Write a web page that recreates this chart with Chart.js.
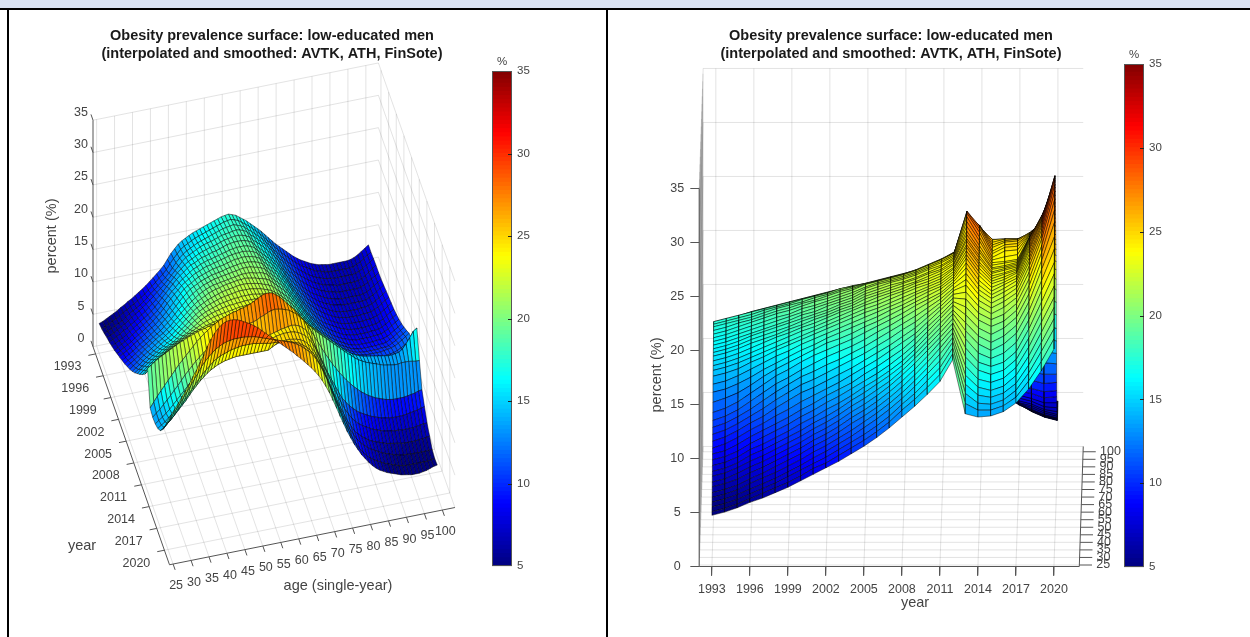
<!DOCTYPE html>
<html>
<head>
<meta charset="utf-8">
<title>Obesity prevalence surface</title>
<script src="https://cdn.jsdelivr.net/npm/chart.js@4"></script>
<style>
  html, body { margin: 0; padding: 0; background: #fff; overflow: hidden; }
  #page { position: relative; width: 1250px; height: 637px; }
  #band { position: absolute; left: 0; top: 0; width: 1250px; height: 8px; background: #d9e2f3; border-bottom: 2px solid #000; }
  .rule { position: absolute; top: 10px; bottom: 0; width: 2px; background: #000; }
  canvas { position: absolute; }
</style>
</head>
<body>
<div id="page">
  <div id="band"></div>
  <div class="rule" style="left:7px"></div>
  <div class="rule" style="left:606px"></div>
  <canvas id="surfaceLeft" style="left:9px;top:27px" width="526" height="610"></canvas>
  <canvas id="surfaceRight" style="left:608px;top:27px" width="566" height="610"></canvas>
  <canvas id="barLeft" style="left:492px;top:52px" width="50" height="526"></canvas>
  <canvas id="barRight" style="left:1124px;top:45px" width="50" height="534"></canvas>
</div>
<script>
var titleLines = ["Obesity prevalence surface: low-educated men", "(interpolated and smoothed: AVTK, ATH, FinSote)"];
var yearTicks = [1993, 1996, 1999, 2002, 2005, 2008, 2011, 2014, 2017, 2020];
var ageTicks = [25, 30, 35, 40, 45, 50, 55, 60, 65, 70, 75, 80, 85, 90, 95, 100];
var percentTicks = [0, 5, 10, 15, 20, 25, 30, 35];
var colorbarTicks = [5, 10, 15, 20, 25, 30, 35];

var ages = [25, 26, 27, 28, 29, 30, 31, 32, 33, 34, 35, 36, 37, 38, 39, 40, 41, 42, 43, 44, 45, 46, 47, 48, 49, 50, 51, 52, 53, 54, 55, 56, 57, 58, 59, 60, 61, 62, 63, 64, 65, 66, 67, 68, 69, 70, 71, 72, 73, 74, 75, 76, 77, 78, 79, 80, 81, 82, 83, 84, 85, 86, 87, 88, 89, 90, 91, 92, 93, 94, 95, 96, 97, 98, 99, 100];
var years = [1993, 1994, 1995, 1996, 1997, 1998, 1999, 2000, 2001, 2002, 2003, 2004, 2005, 2006, 2007, 2008, 2009, 2010, 2011, 2012, 2013, 2014, 2015, 2016, 2017, 2018, 2019, 2020];
// one row per year, one value per age
var percent = [
  [4.6,4.8,5.1,5.4,5.7,6.0,6.4,6.7,7.1,7.4, 7.8,8.2,8.6,9.0,9.5,10.0,10.5,11.0,11.6,12.4, 13.2,13.8,14.4,14.8,15.1,15.4,15.7,15.9,16.1,16.3, 16.5,16.7,16.9,17.1,17.3,17.4,17.5,17.3,17.1,16.7, 16.3,15.9,15.4,14.9,14.4,13.9,13.3,12.7,12.1,11.5, 11.0,10.5,10.0,9.5,9.0,8.6,8.2,7.9,7.6,7.3, 7.1,6.9,6.8,6.7,6.6,6.6,6.6,6.6,6.6,6.6, 6.7,6.9,7.2,7.6,8.0,8.4],
  [4.9,5.1,5.4,5.7,6.0,6.3,6.7,7.0,7.4,7.7, 8.1,8.5,8.9,9.4,9.9,10.4,10.9,11.4,12.0,12.8, 13.5,14.1,14.7,15.1,15.4,15.7,16.0,16.2,16.4,16.6, 16.8,17.0,17.2,17.4,17.6,17.7,17.8,17.6,17.4,17.0, 16.6,16.2,15.7,15.2,14.7,14.1,13.5,12.9,12.3,11.7, 11.1,10.6,10.1,9.6,9.1,8.7,8.3,8.0,7.7,7.4, 7.1,7.0,6.8,6.7,6.6,6.6,6.6,6.6,6.6,6.6, 6.7,6.9,7.2,7.6,8.0,8.4],
  [5.3,5.5,5.8,6.1,6.4,6.7,7.1,7.5,7.9,8.2, 8.6,9.0,9.5,10.0,10.5,11.0,11.5,12.0,12.6,13.3, 14.0,14.6,15.1,15.5,15.8,16.1,16.4,16.6,16.8,17.0, 17.2,17.4,17.6,17.8,17.9,18.0,18.1,17.9,17.7,17.4, 16.9,16.5,16.0,15.5,15.0,14.4,13.8,13.1,12.5,11.9, 11.3,10.7,10.2,9.7,9.2,8.8,8.4,8.0,7.7,7.4, 7.2,7.0,6.9,6.8,6.7,6.7,6.7,6.7,6.7,6.7, 6.8,7.0,7.3,7.7,8.1,8.5],
  [5.8,6.0,6.3,6.6,7.0,7.3,7.7,8.1,8.5,8.9, 9.3,9.7,10.2,10.7,11.2,11.7,12.2,12.8,13.4,14.0, 14.6,15.2,15.7,16.0,16.3,16.6,16.9,17.1,17.3,17.4, 17.6,17.8,18.0,18.1,18.2,18.3,18.4,18.3,18.1,17.8, 17.2,16.8,16.3,15.8,15.3,14.7,14.1,13.4,12.7,12.1, 11.5,10.9,10.3,9.8,9.3,8.9,8.5,8.1,7.8,7.5, 7.3,7.1,7.0,6.9,6.7,6.7,6.7,6.7,6.7,6.7, 6.8,7.0,7.3,7.7,8.2,8.6],
  [6.2,6.5,6.8,7.1,7.5,7.8,8.2,8.6,9.0,9.4, 9.8,10.3,10.8,11.3,11.8,12.4,13.0,13.6,14.2,14.8, 15.3,15.8,16.2,16.5,16.8,17.1,17.3,17.5,17.7,17.8, 18.0,18.2,18.4,18.5,18.6,18.7,18.7,18.6,18.4,18.1, 17.5,17.1,16.6,16.1,15.5,14.9,14.3,13.6,12.9,12.2, 11.6,11.1,10.5,9.9,9.4,9.0,8.6,8.2,7.9,7.6, 7.4,7.2,7.1,6.9,6.8,6.8,6.8,6.8,6.8,6.8, 6.9,7.1,7.4,7.8,8.2,8.6],
  [6.7,7.0,7.3,7.6,8.0,8.4,8.8,9.2,9.6,10.0, 10.4,10.9,11.4,12.0,12.6,13.2,13.8,14.4,15.0,15.5, 15.9,16.4,16.8,17.0,17.3,17.6,17.7,17.9,18.1,18.2, 18.4,18.6,18.8,18.9,19.0,19.0,19.0,18.9,18.7,18.4, 17.8,17.3,16.8,16.3,15.7,15.1,14.5,13.8,13.1,12.4, 11.8,11.2,10.6,10.0,9.5,9.0,8.6,8.3,8.0,7.7, 7.4,7.3,7.1,7.0,6.9,6.9,6.9,6.9,6.9,6.9, 7.0,7.2,7.5,7.9,8.3,8.7],
  [7.2,7.5,7.9,8.2,8.6,9.0,9.4,9.8,10.2,10.6, 11.0,11.5,12.0,12.6,13.3,13.9,14.5,15.0,15.6,16.1, 16.5,16.9,17.3,17.5,17.8,18.0,18.2,18.3,18.5,18.6, 18.8,18.9,19.1,19.2,19.3,19.3,19.3,19.2,19.0,18.7, 18.1,17.6,17.1,16.6,16.0,15.4,14.8,14.1,13.3,12.6, 12.0,11.4,10.8,10.2,9.7,9.2,8.8,8.4,8.1,7.8, 7.6,7.4,7.3,7.2,7.1,7.1,7.1,7.1,7.1,7.1, 7.2,7.4,7.7,8.1,8.5,8.9],
  [7.8,8.1,8.5,8.8,9.2,9.6,10.0,10.4,10.8,11.2, 11.7,12.2,12.7,13.3,14.0,14.6,15.2,15.7,16.3,16.7, 17.1,17.5,17.8,18.0,18.3,18.5,18.6,18.8,18.9,19.1, 19.2,19.4,19.5,19.6,19.6,19.7,19.6,19.5,19.3,19.0, 18.4,17.9,17.4,16.9,16.3,15.7,15.0,14.3,13.5,12.8, 12.2,11.6,11.0,10.4,9.9,9.4,9.0,8.6,8.3,8.0, 7.7,7.5,7.4,7.3,7.2,7.2,7.2,7.2,7.3,7.3, 7.4,7.6,7.9,8.3,8.7,9.1],
  [8.4,8.8,9.1,9.5,9.9,10.3,10.7,11.1,11.5,11.9, 12.3,12.8,13.3,13.9,14.5,15.1,15.7,16.3,16.9,17.3, 17.6,18.0,18.3,18.5,18.7,18.9,19.1,19.2,19.3,19.4, 19.6,19.7,19.9,19.9,20.0,20.0,19.9,19.8,19.6,19.3, 18.7,18.2,17.7,17.2,16.6,16.0,15.3,14.6,13.8,13.1, 12.4,11.8,11.2,10.6,10.1,9.6,9.2,8.8,8.5,8.2, 7.9,7.7,7.6,7.5,7.4,7.4,7.4,7.4,7.5,7.5, 7.6,7.8,8.1,8.5,8.9,9.3],
  [9.0,9.3,9.7,10.1,10.5,10.9,11.3,11.7,12.1,12.5, 13.0,13.5,14.0,14.5,15.1,15.7,16.3,16.9,17.4,17.9, 18.2,18.5,18.8,19.0,19.2,19.4,19.5,19.6,19.7,19.9, 20.0,20.1,20.2,20.3,20.3,20.3,20.2,20.1,19.9,19.6, 19.0,18.5,18.0,17.5,16.9,16.3,15.6,14.9,14.1,13.4, 12.7,12.0,11.4,10.8,10.3,9.8,9.4,9.0,8.7,8.4, 8.1,7.9,7.8,7.7,7.6,7.6,7.6,7.6,7.7,7.7, 7.8,8.0,8.3,8.7,9.1,9.5],
  [9.6,10.0,10.4,10.8,11.2,11.6,12.0,12.4,12.8,13.2, 13.6,14.1,14.6,15.1,15.7,16.3,16.8,17.4,17.9,18.3, 18.7,19.0,19.3,19.5,19.7,19.9,20.0,20.1,20.2,20.3, 20.4,20.5,20.6,20.7,20.7,20.7,20.5,20.4,20.2,19.9, 19.3,18.8,18.3,17.8,17.2,16.5,15.8,15.1,14.4,13.7, 13.0,12.3,11.7,11.1,10.5,10.0,9.6,9.3,9.0,8.7, 8.4,8.2,8.0,7.9,7.8,7.8,7.8,7.8,7.9,7.9, 8.0,8.2,8.5,8.9,9.3,9.7],
  [10.3,10.7,11.1,11.5,11.9,12.4,12.8,13.2,13.6,14.0, 14.3,14.8,15.2,15.8,16.3,16.9,17.4,17.9,18.4,18.8, 19.2,19.5,19.8,20.0,20.2,20.3,20.4,20.5,20.6,20.7, 20.8,20.9,21.0,21.0,21.0,20.9,20.7,20.7,20.5,20.2, 19.6,19.1,18.6,18.1,17.5,16.8,16.1,15.4,14.7,13.9, 13.2,12.5,11.9,11.3,10.8,10.3,9.9,9.5,9.2,8.9, 8.6,8.4,8.3,8.2,8.1,8.1,8.1,8.1,8.2,8.2, 8.3,8.5,8.8,9.2,9.6,10.0],
  [11.0,11.4,11.8,12.3,12.7,13.1,13.5,13.9,14.3,14.7, 15.1,15.5,16.0,16.5,17.0,17.5,18.0,18.5,19.0,19.4, 19.7,20.0,20.3,20.5,20.7,20.8,21.0,21.1,21.2,21.3, 21.4,21.4,21.5,21.4,21.3,21.2,21.0,20.9,20.7,20.4, 19.9,19.4,18.9,18.4,17.8,17.1,16.4,15.7,15.0,14.3, 13.6,12.9,12.3,11.7,11.2,10.7,10.2,9.8,9.5,9.2, 9.0,8.8,8.6,8.5,8.5,8.5,8.5,8.5,8.6,8.6, 8.7,8.9,9.2,9.6,10.0,10.4],
  [11.8,12.2,12.6,13.1,13.5,13.9,14.3,14.7,15.1,15.5, 15.8,16.2,16.7,17.2,17.7,18.2,18.7,19.2,19.6,19.9, 20.2,20.5,20.7,20.9,21.1,21.3,21.4,21.5,21.6,21.7, 21.8,21.8,21.8,21.7,21.6,21.5,21.3,21.1,20.9,20.6, 20.1,19.6,19.1,18.6,18.0,17.4,16.7,16.0,15.3,14.6, 13.9,13.2,12.6,12.0,11.5,11.0,10.6,10.2,9.9,9.6, 9.3,9.1,9.0,8.9,8.9,8.9,8.9,8.9,9.0,9.0, 9.1,9.3,9.6,10.0,10.4,10.8],
  [12.7,13.1,13.5,14.0,14.4,14.8,15.2,15.6,15.9,16.3, 16.6,17.0,17.5,18.0,18.4,18.9,19.4,19.8,20.2,20.5, 20.8,21.0,21.2,21.4,21.6,21.7,21.8,21.9,22.0,22.1, 22.1,22.1,22.1,22.0,21.9,21.8,21.6,21.4,21.2,20.8, 20.4,19.9,19.4,18.9,18.3,17.7,17.0,16.3,15.6,15.0, 14.3,13.6,13.0,12.5,12.0,11.5,11.1,10.7,10.4,10.1, 9.8,9.6,9.5,9.4,9.4,9.4,9.4,9.4,9.5,9.5, 9.6,9.9,10.2,10.6,11.0,11.4],
  [13.7,14.2,14.6,15.0,15.4,15.8,16.2,16.6,16.9,17.2, 17.5,17.9,18.3,18.8,19.2,19.7,20.1,20.5,20.8,21.1, 21.3,21.5,21.7,21.9,22.0,22.1,22.2,22.3,22.3,22.4, 22.4,22.4,22.4,22.3,22.2,22.1,21.9,21.7,21.5,21.1, 20.7,20.2,19.7,19.2,18.6,18.0,17.4,16.7,16.0,15.3, 14.7,14.0,13.4,12.9,12.5,12.0,11.6,11.3,11.0,10.7, 10.4,10.2,10.1,10.0,10.0,10.0,10.0,10.0,10.1,10.1, 10.2,10.5,10.8,11.2,11.6,12.0],
  [14.7,15.2,15.6,16.1,16.5,16.9,17.3,17.7,18.0,18.3, 18.6,18.9,19.3,19.6,20.0,20.4,20.8,21.2,21.5,21.7, 21.9,22.1,22.2,22.4,22.5,22.6,22.6,22.7,22.7,22.8, 22.8,22.8,22.8,22.7,22.6,22.4,22.2,22.0,21.8,21.4, 21.0,20.5,20.0,19.5,19.0,18.4,17.8,17.1,16.4,15.8, 15.1,14.5,13.9,13.4,13.0,12.6,12.2,11.9,11.6,11.3, 11.1,10.9,10.8,10.7,10.7,10.7,10.7,10.7,10.8,10.9, 11.0,11.2,11.5,11.9,12.3,12.7],
  [15.8,16.3,16.8,17.3,17.7,18.1,18.5,18.9,19.2,19.5, 19.8,20.1,20.4,20.7,21.0,21.3,21.6,21.9,22.1,22.3, 22.5,22.6,22.7,22.8,22.9,23.0,23.1,23.2,23.2,23.3, 23.3,23.3,23.3,23.2,23.1,22.9,22.7,22.5,22.2,21.8, 21.4,20.9,20.4,19.9,19.3,18.7,18.1,17.5,16.8,16.2, 15.5,14.9,14.3,13.8,13.3,12.9,12.5,12.2,11.9,11.7, 11.5,11.3,11.2,11.1,11.1,11.1,11.1,11.1,11.2,11.3, 11.4,11.6,11.9,12.2,12.6,13.0],
  [17.0,17.5,18.0,18.5,19.0,19.4,19.8,20.1,20.4,20.7, 21.0,21.3,21.5,21.8,22.0,22.2,22.4,22.6,22.7,22.9, 23.0,23.1,23.2,23.3,23.4,23.5,23.6,23.6,23.7,23.7, 23.8,23.8,23.8,23.7,23.6,23.4,23.2,22.9,22.6,22.2, 21.8,21.3,20.8,20.3,19.7,19.1,18.5,17.9,17.2,16.5, 15.8,15.2,14.6,14.1,13.6,13.2,12.8,12.5,12.2,12.0, 11.8,11.6,11.5,11.4,11.4,11.4,11.4,11.4,11.5,11.6, 11.7,11.9,12.2,12.5,12.9,13.3],
  [19.0,19.4,19.8,20.2,20.5,20.8,21.1,21.4,21.7,22.0, 22.2,22.5,22.7,22.9,23.1,23.3,23.4,23.6,23.7,23.8, 23.9,24.0,24.1,24.2,24.2,24.3,24.3,24.4,24.4,24.4, 24.4,24.4,24.4,24.3,24.2,24.1,23.9,23.7,23.4,23.1, 22.8,22.4,22.0,21.6,21.2,20.7,20.2,19.7,19.2,18.7, 18.2,17.7,17.2,16.7,16.2,15.7,15.3,14.9,14.6,14.4, 14.2,14.1,14.0,13.9,13.8,13.7,13.6,13.5,13.5,13.6, 13.7,14.1,14.8,15.6,16.5,16.9],
  [14.0,14.8,15.6,16.3,17.0,17.7,18.4,19.1,19.8,20.4, 21.0,21.6,22.2,22.8,23.3,23.8,24.2,24.6,25.0,25.3, 25.6,25.8,26.0,26.2,26.3,26.5,26.6,26.8,27.0,27.3, 27.6,27.9,28.1,28.1,28.0,27.6,27.2,26.6,26.0,25.4, 24.8,24.1,23.4,22.7,22.0,21.4,20.8,20.3,19.8,19.3, 18.8,18.3,17.8,17.3,16.8,16.3,15.9,15.4,15.0,14.7, 14.4,14.2,14.0,13.8,13.6,13.4,13.3,13.2,13.1,13.1, 13.2,13.2,13.2,13.1,13.0,13.0],
  [13.7,14.2,14.7,15.3,15.9,16.5,17.2,17.8,18.5,19.2, 19.8,20.4,21.0,21.5,22.0,22.4,22.8,23.1,23.4,23.7, 24.0,24.2,24.4,24.6,24.7,24.9,25.0,25.2,25.3,25.5, 25.8,26.0,26.3,26.5,26.6,26.5,26.4,26.2,26.0,25.6, 25.2,24.6,24.0,23.1,22.2,21.2,20.2,19.2,18.2,17.3, 16.4,15.6,14.8,14.1,13.4,12.8,12.2,11.7,11.2,10.8, 10.4,10.1,9.8,9.6,9.4,9.2,9.1,9.0,9.0,9.0, 9.0,9.1,9.2,9.3,9.5,9.6],
  [13.8,14.2,14.6,15.1,15.6,16.2,16.8,17.4,18.0,18.6, 19.2,19.8,20.4,20.9,21.3,21.7,22.0,22.3,22.5,22.7, 22.9,23.1,23.2,23.3,23.4,23.5,23.5,23.6,23.6,23.7, 23.8,23.9,24.0,24.2,24.3,24.5,24.6,24.7,24.8,24.7, 24.5,24.1,23.6,22.7,21.6,20.3,19.0,17.7,16.4,15.3, 14.2,13.1,12.0,11.3,10.6,10.1,9.6,9.2,8.9,8.6, 8.3,8.1,7.9,7.7,7.6,7.5,7.4,7.4,7.4,7.4, 7.5,7.6,7.7,7.8,8.0,8.1],
  [14.2,14.6,15.0,15.5,16.0,16.6,17.2,17.8,18.5,19.2, 19.8,20.4,20.9,21.4,21.9,22.3,22.6,22.9,23.1,23.3, 23.4,23.5,23.6,23.7,23.7,23.8,23.8,23.8,23.8,23.9, 23.9,24.2,24.6,24.8,24.9,25.0,25.0,25.0,24.9,24.7, 24.4,24.0,23.4,22.6,21.6,20.3,19.0,17.7,16.4,15.1, 13.8,12.6,11.5,10.6,9.8,9.2,8.7,8.3,8.0,7.7, 7.4,7.2,7.0,6.8,6.7,6.6,6.5,6.5,6.4,6.4, 6.4,6.4,6.5,6.6,6.7,6.7],
  [15.0,15.4,15.9,16.4,17.0,17.6,18.2,18.8,19.5,20.2, 20.8,21.4,21.9,22.4,22.8,23.1,23.4,23.6,23.8,23.9, 24.0,24.1,24.1,24.1,24.1,24.1,24.1,24.1,24.1,24.1, 24.1,24.4,24.7,24.9,25.0,25.1,25.1,25.0,24.9,24.7, 24.4,23.9,23.2,22.4,21.3,20.0,18.6,17.2,15.8,14.5, 13.2,12.0,10.8,9.9,9.0,8.4,7.9,7.5,7.1,6.8, 6.6,6.4,6.2,6.0,5.9,5.8,5.7,5.6,5.5,5.5, 5.5,5.5,5.6,5.6,5.7,5.8],
  [16.3,16.9,17.5,18.1,18.8,19.5,20.2,20.9,21.6,22.3, 23.0,23.6,24.2,24.7,25.2,25.6,25.9,26.1,26.3,26.5, 26.6,26.7,26.8,26.8,26.8,26.8,26.7,26.6,26.5,26.4, 26.3,26.3,26.2,26.1,26.0,25.9,25.8,25.6,25.4,25.0, 24.6,24.0,23.3,22.3,21.2,19.9,18.5,17.1,15.7,14.3, 13.0,11.8,10.6,9.7,8.8,8.2,7.6,7.2,6.8,6.5, 6.2,5.9,5.7,5.5,5.3,5.1,5.0,4.9,4.9,4.8, 4.8,4.8,4.8,4.8,4.8,4.9],
  [18.0,18.7,19.5,20.2,21.0,21.8,22.6,23.4,24.3,25.1, 26.0,26.7,27.3,27.8,28.3,28.6,28.9,29.1,29.2,29.3, 29.3,29.3,29.3,29.2,29.1,29.0,28.8,28.6,28.4,28.2, 28.0,27.8,27.6,27.4,27.2,27.0,26.7,26.4,26.0,25.5, 25.0,24.4,23.6,22.6,21.4,20.1,18.6,17.1,15.6,14.2, 12.8,11.6,10.4,9.4,8.5,7.8,7.2,6.7,6.3,6.0, 5.7,5.4,5.2,5.0,4.8,4.6,4.5,4.4,4.4,4.4, 4.4,4.4,4.4,4.4,4.5,4.6],
  [20.0,20.8,21.6,22.4,23.3,24.1,25.0,26.0,26.9,28.0, 29.0,30.2,31.2,32.0,32.6,33.1,33.4,33.5,33.5,33.4, 33.2,32.9,32.6,32.3,31.9,31.5,31.0,30.5,30.0,29.5, 29.0,28.5,28.0,27.5,27.0,26.5,25.9,25.4,24.8,24.2, 23.6,22.9,22.2,21.3,20.3,19.2,17.9,16.6,15.2,13.9, 12.6,11.5,10.4,9.5,8.6,7.9,7.2,6.6,6.1,5.7, 5.4,5.1,4.9,4.7,4.5,4.3,4.2,4.1,4.0,4.0, 4.0,4.1,4.2,4.4,4.6,4.7]
];

// axis limits of the 3D box
var yearMin = 1992, yearMax = 2022, ageMin = 24, ageMax = 103.5, percentMax = 35;

// see-through on purpose, the wall lines seen edge-on stack up to a grey band
var gridColor = "rgba(40,40,40,0.13)";
var axisColor = "#555555";
var textColor = "#444444";
var fontName = "'Liberation Sans', Arial, sans-serif";

// orthographic views, px per unit, anchored on year 2020 / age 25 / 0 %
var viewLeft = {
  ox: 168, oy: 549.5, yearX: 2.55, yearY: 7.27, ageX: 3.59, ageY: -0.72, zY: -6.47,
  zTick: 0.8, yearTick: 2, ageTick: 0.8,
  zLabel: [-12, -8], yearLabel: [-28, 13], ageLabel: [3, 22], ageAlign: "center",
  texts: [
    { text: "percent (%)", x: 52, y: 236, rotate: true },
    { text: "year", x: 82, y: 546 },
    { text: "age (single-year)", x: 338, y: 586 }
  ]
};
var viewRight = {
  ox: 1054, oy: 565, yearX: 12.67, yearY: 0, ageX: 0.05, ageY: -1.51, zY: -10.8,
  zTick: 0.7, yearTick: 6, ageTick: 1,
  zLabel: [-22, 0], yearLabel: [0, 23], ageLabel: [17, 0], ageAlign: "left",
  texts: [
    { text: "percent (%)", x: 657, y: 375, rotate: true },
    { text: "year", x: 915, y: 603 }
  ]
};

function project(view, year, age, z) {
  return {
    x: view.ox + view.yearX * (year - 2020) + view.ageX * (age - 25),
    y: view.oy + view.yearY * (year - 2020) + view.ageY * (age - 25) + view.zY * z
  };
}

function jet(v) {
  var t = Math.max(0, Math.min(1, (v - 5) / 30));
  function c(k) { return Math.round(255 * Math.max(0, Math.min(1, 1.5 - Math.abs(4 * t - k)))); }
  return "rgb(" + c(3) + "," + c(2) + "," + c(1) + ")";
}

function lineSet(view, a, b, color, width) {
  return {
    data: [project(view, a[0], a[1], a[2]), project(view, b[0], b[1], b[2])],
    showLine: true, fill: false, borderColor: color, borderWidth: width, pointRadius: 0
  };
}

function buildBox(view) {
  var sets = [];
  yearTicks.forEach(function (y) {
    sets.push(lineSet(view, [y, ageMin, 0], [y, ageMax, 0], gridColor, 1));
    sets.push(lineSet(view, [y, ageMax, 0], [y, ageMax, percentMax], gridColor, 1));
  });
  ageTicks.forEach(function (a) {
    sets.push(lineSet(view, [yearMin, a, 0], [yearMax, a, 0], gridColor, 1));
    sets.push(lineSet(view, [yearMin, a, 0], [yearMin, a, percentMax], gridColor, 1));
  });
  percentTicks.forEach(function (z) {
    sets.push(lineSet(view, [yearMin, ageMin, z], [yearMin, ageMax, z], gridColor, 1));
    sets.push(lineSet(view, [yearMin, ageMax, z], [yearMax, ageMax, z], gridColor, 1));
  });
  // axes and tick marks
  sets.push(lineSet(view, [yearMin, ageMin, 0], [yearMax, ageMin, 0], axisColor, 1));
  sets.push(lineSet(view, [yearMax, ageMin, 0], [yearMax, ageMax, 0], axisColor, 1));
  sets.push(lineSet(view, [yearMin, ageMin, 0], [yearMin, ageMin, percentMax], axisColor, 1));
  yearTicks.forEach(function (y) {
    sets.push(lineSet(view, [y, ageMin, 0], [y, ageMin - view.yearTick, 0], axisColor, 1));
  });
  ageTicks.forEach(function (a) {
    sets.push(lineSet(view, [yearMax, a, 0], [yearMax + view.ageTick, a, 0], axisColor, 1));
  });
  percentTicks.forEach(function (z) {
    sets.push(lineSet(view, [yearMin, ageMin, z], [yearMin - view.zTick, ageMin, z], axisColor, 1));
  });
  return sets;
}

// far to near: years ascending, ages descending. cell colour comes from its first corner
function buildCells(view) {
  var sets = [];
  for (var i = 0; i < years.length - 1; i++) {
    for (var j = ages.length - 2; j >= 0; j--) {
      var p1 = project(view, years[i], ages[j], percent[i][j]);
      sets.push({
        data: [
          p1,
          project(view, years[i], ages[j + 1], percent[i][j + 1]),
          project(view, years[i + 1], ages[j + 1], percent[i + 1][j + 1]),
          project(view, years[i + 1], ages[j], percent[i + 1][j]),
          p1
        ],
        showLine: true,
        fill: "shape",
        backgroundColor: jet(percent[i][j]),
        borderColor: "rgba(0,0,0,0.8)",
        borderWidth: 0.6,
        pointRadius: 0
      });
    }
  }
  return sets;
}

var axisText = {
  id: "axisText",
  afterDraw: function (chart, args, opts) {
    var view = opts.view, ctx = chart.ctx, sx = chart.scales.x, sy = chart.scales.y;
    function put(text, x, y, align, rotate) {
      ctx.save();
      ctx.translate(sx.getPixelForValue(x), sy.getPixelForValue(y));
      if (rotate) ctx.rotate(-Math.PI / 2);
      ctx.textAlign = align;
      ctx.textBaseline = "middle";
      ctx.fillText(text, 0, 0);
      ctx.restore();
    }
    ctx.save();
    ctx.fillStyle = textColor;
    ctx.font = "12.5px " + fontName;
    percentTicks.forEach(function (z) {
      var p = project(view, yearMin, ageMin, z);
      put(String(z), p.x + view.zLabel[0], p.y + view.zLabel[1], "center");
    });
    yearTicks.forEach(function (y) {
      var p = project(view, y, ageMin, 0);
      put(String(y), p.x + view.yearLabel[0], p.y + view.yearLabel[1], "center");
    });
    ageTicks.forEach(function (a) {
      var p = project(view, yearMax, a, 0);
      put(String(a), p.x + view.ageLabel[0], p.y + view.ageLabel[1], view.ageAlign);
    });
    ctx.font = "14.5px " + fontName;
    view.texts.forEach(function (t) { put(t.text, t.x, t.y, "center", t.rotate); });
    ctx.restore();
  }
};

function drawSurface(id, view, left, width) {
  // far sets have to come last, the first dataset ends up on top
  var sets = buildBox(view).concat(buildCells(view)).reverse();
  new Chart(document.getElementById(id), {
    type: "scatter",
    data: { datasets: sets },
    options: {
      responsive: false,
      animation: false,
      events: [],
      clip: false,
      elements: { line: { tension: 0 } },
      scales: {
        x: { type: "linear", display: false, min: left, max: left + width },
        y: { type: "linear", display: false, min: 63, max: 637, reverse: true }
      },
      plugins: {
        legend: { display: false },
        tooltip: { enabled: false },
        title: {
          display: true,
          text: titleLines,
          color: "#1a1a1a",
          padding: 0,
          font: { family: fontName, size: 14.5, weight: "bold", lineHeight: "18px" }
        },
        axisText: { view: view }
      }
    },
    plugins: [axisText]
  });
}

var barFrame = {
  id: "barFrame",
  afterDraw: function (chart) {
    var ctx = chart.ctx, a = chart.chartArea, sy = chart.scales.y;
    ctx.save();
    ctx.strokeStyle = "#555555";
    ctx.lineWidth = 1;
    ctx.strokeRect(a.left + 0.5, a.top + 0.5, a.width - 1, a.height - 1);
    ctx.strokeStyle = "#222222";
    colorbarTicks.slice(1, -1).forEach(function (v) {
      var y = Math.round(sy.getPixelForValue(v)) + 0.5;
      ctx.beginPath();
      ctx.moveTo(a.right - 4, y);
      ctx.lineTo(a.right, y);
      ctx.stroke();
    });
    ctx.restore();
  }
};

function drawColorbar(id) {
  var sets = [];
  for (var v = 5; v < 35; v += 0.25) {
    sets.push({ data: [[v, v + 0.27]], backgroundColor: jet(v + 0.125), borderWidth: 0, grouped: false, barPercentage: 1, categoryPercentage: 1 });
  }
  new Chart(document.getElementById(id), {
    type: "bar",
    data: { labels: ["%"], datasets: sets },
    options: {
      responsive: false,
      animation: false,
      events: [],
      layout: { padding: { bottom: 8 } },
      scales: {
        x: { display: false },
        y: {
          position: "right",
          min: 5,
          max: 35,
          afterFit: function (scale) { scale.width = 30; },
          afterBuildTicks: function (scale) { scale.ticks = colorbarTicks.map(function (v) { return { value: v }; }); },
          grid: { display: false, drawTicks: false },
          border: { display: false },
          ticks: { color: textColor, padding: 5, font: { family: fontName, size: 11.5 } }
        }
      },
      plugins: {
        legend: { display: false },
        tooltip: { enabled: false },
        title: {
          display: true,
          text: "%",
          fullSize: false,
          color: textColor,
          padding: 0,
          font: { family: fontName, size: 11.5, weight: "normal", lineHeight: "19px" }
        }
      }
    },
    plugins: [barFrame]
  });
}

drawSurface("surfaceLeft", viewLeft, 9, 526);
drawSurface("surfaceRight", viewRight, 608, 566);
drawColorbar("barLeft");
drawColorbar("barRight");
</script>
</body>
</html>
